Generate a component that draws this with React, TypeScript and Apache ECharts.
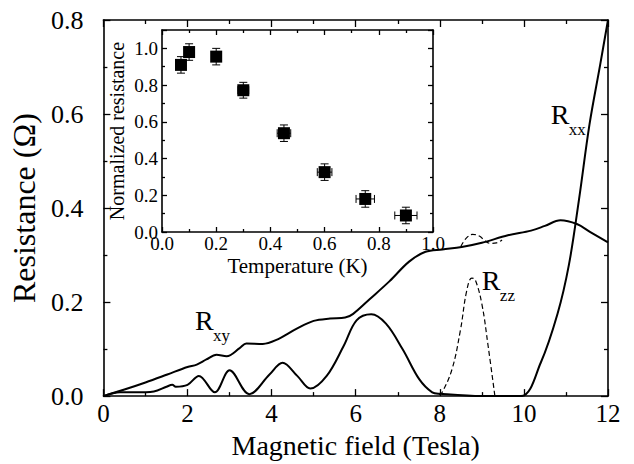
import React, { useEffect, useRef } from "react";
import * as echarts from "echarts";

// ---------- data ----------
// Magnetic field (T) vs resistance (Ohm)
const rxyCurve: [number, number][] = [
  [0, 0], [0.5, 0.014], [1.0, 0.029], [1.52, 0.046], [2.0, 0.062], [2.22, 0.067],
  [2.45, 0.078], [2.69, 0.088], [2.93, 0.085], [3.24, 0.102], [3.4, 0.112],
  [3.79, 0.111], [4.1, 0.119], [4.61, 0.144], [5.0, 0.16], [5.39, 0.165],
  [5.75, 0.167], [5.94, 0.175], [6.33, 0.206], [6.8, 0.244], [7.27, 0.286],
  [7.66, 0.307], [8.06, 0.312], [8.52, 0.317], [9.0, 0.326], [9.62, 0.342],
  [10.17, 0.352], [10.5, 0.362], [10.87, 0.374], [11.26, 0.366], [11.58, 0.349],
  [12, 0.327],
];
const rxxCurve: [number, number][] = [
  [0, 0], [0.4, 0.008], [0.75, 0.008], [1.2, 0.01], [1.5, 0.02], [1.64, 0.024],
  [1.72, 0.02], [2.0, 0.024], [2.27, 0.043], [2.65, 0.008], [3.0, 0.055],
  [3.47, 0.004], [3.95, 0.046], [4.26, 0.071], [4.61, 0.043], [4.92, 0.016],
  [5.31, 0.043], [5.71, 0.106], [6.02, 0.161], [6.37, 0.174], [6.72, 0.154],
  [7.12, 0.099], [7.51, 0.036], [7.82, 0.008], [8.0, 0.005], [9.0, 0.0],
  [9.93, 0.0], [10.4, 0.071], [10.8, 0.175], [11.07, 0.279], [11.31, 0.418],
  [11.56, 0.578], [11.81, 0.703], [12, 0.8],
];
const rzzCurve: [number, number][] = [
  [7.98, 0.003], [8.05, 0.007], [8.29, 0.057], [8.49, 0.14], [8.64, 0.224],
  [8.76, 0.251], [8.84, 0.248], [9.0, 0.196], [9.15, 0.106], [9.31, 0.0],
];
const rzzLoop: [number, number][] = [
  [8.5, 0.318], [8.62, 0.335], [8.78, 0.344], [8.95, 0.34], [9.05, 0.332],
  [9.2, 0.325], [9.35, 0.326], [9.48, 0.332],
];

// Inset: temperature (K) vs normalized resistance
const temps = [0.07, 0.1, 0.2, 0.3, 0.45, 0.6, 0.75, 0.9];
const normRes = [0.91, 0.98, 0.955, 0.772, 0.538, 0.326, 0.18, 0.09];
const resErr = [0.045, 0.045, 0.045, 0.043, 0.045, 0.045, 0.045, 0.045];
const tempErr = [0.01, 0.01, 0.01, 0.02, 0.025, 0.027, 0.034, 0.041];

// Curve labels: [subscript, x, y] (data coordinates of R's left / vertical centre)
const curveLabels: [string, number, number][] = [
  ["xy", 2.18, 0.16],
  ["zz", 9.0, 0.246],
  ["xx", 10.64, 0.6],
];

const FONT = "'Liberation Serif', 'Times New Roman', serif";

export default function App() {
  const ref = useRef<HTMLDivElement>(null);

  useEffect(() => {
    if (!ref.current) return;
    const chart = echarts.init(ref.current, undefined, { renderer: "svg" });

    const axisLine = { show: true, onZero: false, lineStyle: { color: "#000", width: 1.6 } };
    const tick = (len: number) => ({ show: true, inside: true, length: len, lineStyle: { color: "#000", width: 1.3 } });
    const minor = (len: number) => ({ show: true, splitNumber: 2, length: len, lineStyle: { color: "#000", width: 1.3 } });

    const mainX = {
      type: "value", gridIndex: 0, min: 0, max: 12, interval: 2, position: "bottom",
      axisLine, axisTick: tick(7), minorTick: minor(4), splitLine: { show: false },
      axisLabel: { color: "#000", fontFamily: FONT, fontSize: 25, margin: 5 },
      name: "Magnetic field (Tesla)", nameLocation: "middle", nameGap: 27,
      nameTextStyle: { color: "#000", fontFamily: FONT, fontSize: 28 },
    };
    const mainXTop = {
      type: "value", gridIndex: 0, min: 0, max: 12, interval: 2, position: "top",
      axisLine, axisTick: tick(7), minorTick: minor(4), splitLine: { show: false },
      axisLabel: { show: false },
    };
    const mainY = {
      type: "value", gridIndex: 0, min: 0, max: 0.8, interval: 0.2, position: "left",
      axisLine, axisTick: tick(7), minorTick: minor(4), splitLine: { show: false },
      axisLabel: { color: "#000", fontFamily: FONT, fontSize: 26, margin: 20, formatter: (v: number) => v.toFixed(1) },
      name: "Resistance (Ω)", nameLocation: "middle", nameGap: 52,
      nameTextStyle: { color: "#000", fontFamily: FONT, fontSize: 32 },
    };
    const mainYRight = {
      type: "value", gridIndex: 0, min: 0, max: 0.8, interval: 0.2, position: "right",
      axisLine, axisTick: tick(7), minorTick: minor(4), splitLine: { show: false },
      axisLabel: { show: false },
    };

    const insetX = {
      type: "value", gridIndex: 1, min: 0, max: 1, interval: 0.2, position: "bottom",
      axisLine, axisTick: tick(5), minorTick: minor(3), splitLine: { show: false },
      axisLabel: { color: "#000", fontFamily: FONT, fontSize: 19, margin: 2, formatter: (v: number) => v.toFixed(1) },
      name: "Temperature (K)", nameLocation: "middle", nameGap: 23,
      nameTextStyle: { color: "#000", fontFamily: FONT, fontSize: 21 },
    };
    const insetXTop = {
      type: "value", gridIndex: 1, min: 0, max: 1, interval: 0.2, position: "top",
      axisLine, axisTick: tick(5), minorTick: minor(3), splitLine: { show: false },
      axisLabel: { show: false },
    };
    const insetY = {
      type: "value", gridIndex: 1, min: 0, max: 1.1, interval: 0.2, position: "left",
      axisLine, axisTick: tick(5), minorTick: minor(3), splitLine: { show: false },
      axisLabel: { color: "#000", fontFamily: FONT, fontSize: 19, margin: 4, showMaxLabel: false, formatter: (v: number) => v.toFixed(1) },
      name: "Normalized resistance", nameLocation: "middle", nameGap: 35,
      nameTextStyle: { color: "#000", fontFamily: FONT, fontSize: 20 },
    };
    const insetYRight = {
      type: "value", gridIndex: 1, min: 0, max: 1.1, interval: 0.2, position: "right",
      axisLine, axisTick: tick(5), minorTick: minor(3), splitLine: { show: false },
      axisLabel: { show: false },
    };

    const lineStyle = { color: "#000", width: 2 };
    const insetData = temps.map((t, i) => [t, normRes[i], resErr[i], tempErr[i]]);

    chart.setOption({
      animation: false,
      backgroundColor: "#fff",
      textStyle: { fontFamily: FONT },
      grid: [
        { left: 97, right: 26, top: 20, bottom: 60 },
        { left: 162, top: 30, width: 271, height: 202, show: true, backgroundColor: "#fff", borderWidth: 0 },
      ],
      xAxis: [mainX, mainXTop, insetX, insetXTop],
      yAxis: [mainY, mainYRight, insetY, insetYRight],
      series: [
        { type: "line", xAxisIndex: 0, yAxisIndex: 0, data: rxyCurve, smooth: 0.35, showSymbol: false, lineStyle, z: 3 },
        { type: "line", xAxisIndex: 0, yAxisIndex: 0, data: rxxCurve, smooth: 0.35, showSymbol: false, lineStyle, z: 3 },
        { type: "line", xAxisIndex: 0, yAxisIndex: 0, data: rzzCurve, smooth: 0.4, showSymbol: false, lineStyle: { color: "#000", width: 1.2, type: [5, 3] }, z: 3 },
        { type: "line", xAxisIndex: 0, yAxisIndex: 0, data: rzzLoop, smooth: 0.4, showSymbol: false, lineStyle: { color: "#000", width: 1.2, type: [5, 3] }, z: 3 },
        {
          type: "custom", xAxisIndex: 2, yAxisIndex: 2, data: insetData, z: 10,
          encode: { x: 0, y: 1 },
          renderItem: (params: any, api: any) => {
            const x = api.value(0), y = api.value(1), ey = api.value(2), ex = api.value(3);
            const top = api.coord([x, y + ey]);
            const bot = api.coord([x, y - ey]);
            const lft = api.coord([x - ex, y]);
            const rgt = api.coord([x + ex, y]);
            const st = { stroke: "#000", lineWidth: 1 };
            const c = 4;
            return {
              type: "group",
              children: [
                { type: "line", shape: { x1: top[0], y1: top[1], x2: bot[0], y2: bot[1] }, style: st },
                { type: "line", shape: { x1: top[0] - c, y1: top[1], x2: top[0] + c, y2: top[1] }, style: st },
                { type: "line", shape: { x1: bot[0] - c, y1: bot[1], x2: bot[0] + c, y2: bot[1] }, style: st },
                { type: "line", shape: { x1: lft[0], y1: lft[1], x2: rgt[0], y2: rgt[1] }, style: st },
                { type: "line", shape: { x1: lft[0], y1: lft[1] - c, x2: lft[0], y2: lft[1] + c }, style: st },
                { type: "line", shape: { x1: rgt[0], y1: rgt[1] - c, x2: rgt[0], y2: rgt[1] + c }, style: st },
              ],
            };
          },
        },
        {
          type: "scatter", xAxisIndex: 2, yAxisIndex: 2, data: temps.map((t, i) => [t, normRes[i]]),
          symbol: "rect", symbolSize: 12, itemStyle: { color: "#000", opacity: 1 }, z: 11,
        },
      ],
    });

    const graphics: any[] = [];
    curveLabels.forEach(([sub, x, y]) => {
      const p = chart.convertToPixel({ gridIndex: 0 } as any, [x, y]) as number[];
      graphics.push({
        type: "text", x: p[0], y: p[1], z: 20,
        style: { text: "R", fontFamily: FONT, fontSize: 28, fill: "#000", align: "left", verticalAlign: "middle" },
      });
      graphics.push({
        type: "text", x: p[0] + 18, y: p[1] + 15, z: 20,
        style: { text: sub, fontFamily: FONT, fontSize: 17, fill: "#000", align: "left", verticalAlign: "middle" },
      });
    });
    chart.setOption({ graphic: graphics });

    return () => chart.dispose();
  }, []);

  return <div ref={ref} style={{ position: "absolute", left: 0, top: 0, width: 634, height: 464 }} />;
}
